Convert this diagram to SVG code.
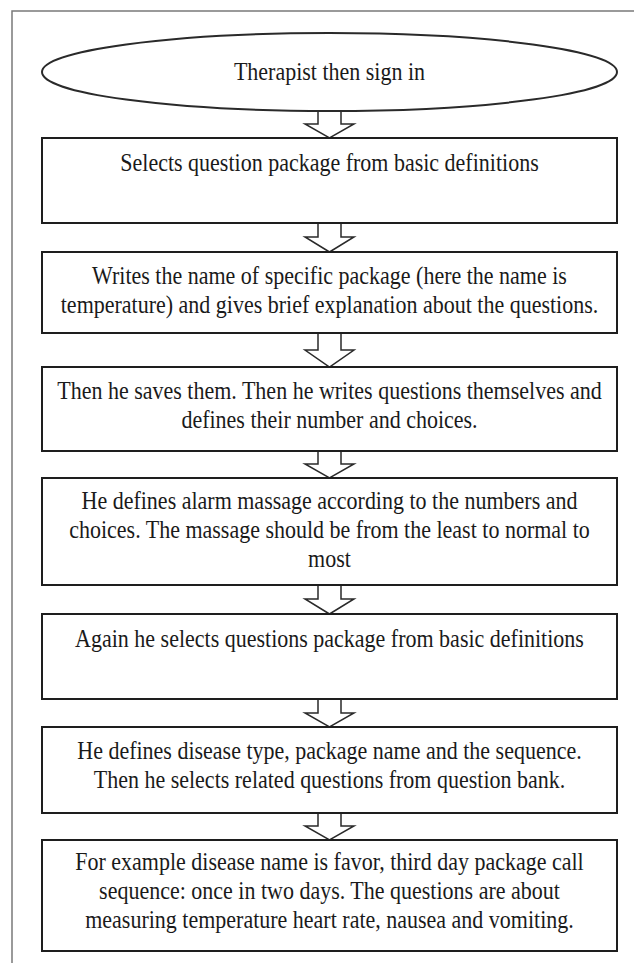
<svg xmlns="http://www.w3.org/2000/svg" width="634" height="963" viewBox="0 0 634 963">
<style>
.frame{fill:none;stroke:#7a7a7a;stroke-width:1.5}
.box{fill:#fff;stroke:#1e1e1e;stroke-width:2}
.arr{fill:#fff;stroke:#2a2a2a;stroke-width:1.5;stroke-linejoin:miter}
text{font-family:"Liberation Serif","Times New Roman",serif;font-size:22px;fill:#1a1a1a;text-anchor:middle}
</style>
<rect width="634" height="963" fill="#fff"/>
<path class="frame" d="M12,963 V11 H634"/>
<g id="connectors">
<polygon class="arr" points="318,111 318,124 305,124 329.5,138 354,124 341,124 341,111"/>
<polygon class="arr" points="318,223 318,237 305,237 329.5,252 354,237 341,237 341,223"/>
<polygon class="arr" points="318,333 318,350 305,350 329.5,367 354,350 341,350 341,333"/>
<polygon class="arr" points="318,451 318,464 305,464 329.5,478 354,464 341,464 341,451"/>
<polygon class="arr" points="318,585 318,599 305,599 329.5,614 354,599 341,599 341,585"/>
<polygon class="arr" points="318,699 318,713 305,713 329.5,727 354,713 341,713 341,699"/>
<polygon class="arr" points="318,813 318,826 305,826 329.5,840 354,826 341,826 341,813"/>
</g>
<g id="start">
<ellipse cx="329.5" cy="72" rx="287.5" ry="39" fill="#fff" stroke="#2a2a2a" stroke-width="2"/>
<text x="329.5" y="0" transform="translate(0,80) scale(1,1.17)">Therapist then sign in</text>
</g>
<g id="step1">
<rect class="box" x="42" y="138" width="575" height="85"/>
<text x="329.5" y="0" transform="translate(0,171) scale(1,1.17)">Selects question package from basic definitions</text>
</g>
<g id="step2">
<rect class="box" x="42" y="252" width="575" height="81"/>
<text x="329.5" y="0" transform="translate(0,284) scale(1,1.17)">Writes the name of specific package (here the name is</text>
<text x="329.5" y="0" transform="translate(0,313) scale(1,1.17)">temperature) and gives brief explanation about the questions.</text>
</g>
<g id="step3">
<rect class="box" x="42" y="367" width="575" height="84"/>
<text x="329.5" y="0" transform="translate(0,399) scale(1,1.17)">Then he saves them. Then he writes questions themselves and</text>
<text x="329.5" y="0" transform="translate(0,428) scale(1,1.17)">defines their number and choices.</text>
</g>
<g id="step4">
<rect class="box" x="42" y="478" width="575" height="107"/>
<text x="329.5" y="0" transform="translate(0,509) scale(1,1.17)">He defines alarm massage according to the numbers and</text>
<text x="329.5" y="0" transform="translate(0,538) scale(1,1.17)">choices. The massage should be from the least to normal to</text>
<text x="329.5" y="0" transform="translate(0,567) scale(1,1.17)">most</text>
</g>
<g id="step5">
<rect class="box" x="42" y="614" width="575" height="85"/>
<text x="329.5" y="0" transform="translate(0,647) scale(1,1.17)">Again he selects questions package from basic definitions</text>
</g>
<g id="step6">
<rect class="box" x="42" y="727" width="575" height="86"/>
<text x="329.5" y="0" transform="translate(0,759) scale(1,1.17)">He defines disease type, package name and the sequence.</text>
<text x="329.5" y="0" transform="translate(0,788) scale(1,1.17)">Then he selects related questions from question bank.</text>
</g>
<g id="step7">
<rect class="box" x="42" y="840" width="575" height="111"/>
<text x="329.5" y="0" transform="translate(0,870) scale(1,1.17)">For example disease name is favor, third day package call</text>
<text x="329.5" y="0" transform="translate(0,899) scale(1,1.17)">sequence: once in two days. The questions are about</text>
<text x="329.5" y="0" transform="translate(0,928) scale(1,1.17)">measuring temperature heart rate, nausea and vomiting.</text>
</g>
</svg>
